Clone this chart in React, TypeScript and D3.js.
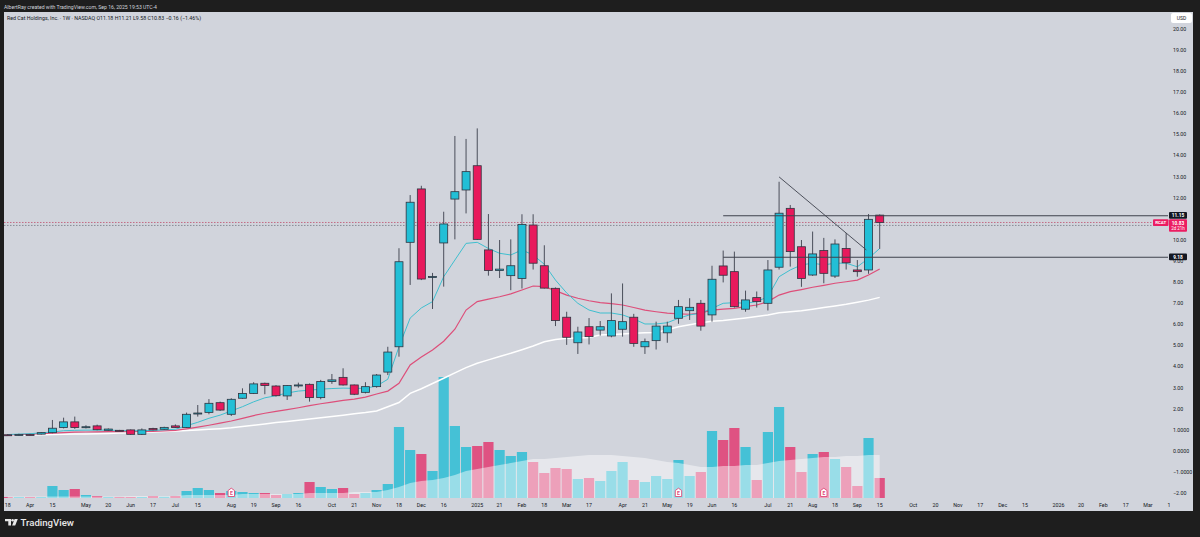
import React from 'react';
import * as d3 from 'd3';

// Weekly bars, index 0 = week of Mar 18 2024 ... 78 = week of Sep 15 2025
const opens = [0.77,0.76,0.78,0.80,0.87,1.11,1.38,1.11,1.19,0.98,0.98,1.00,0.79,1.07,1.03,1.19,1.11,1.78,1.83,2.29,1.74,2.50,2.73,3.21,3.08,2.61,3.12,3.16,2.53,3.29,3.49,3.13,2.78,3.05,3.74,4.94,9.89,12.42,8.25,9.86,11.94,12.37,13.52,9.53,8.55,8.31,8.18,10.71,8.78,7.71,6.34,5.13,5.89,5.73,5.45,5.77,6.34,4.94,5.23,5.60,6.29,6.65,7.00,6.45,8.77,8.50,6.72,7.27,7.00,8.71,11.50,9.68,8.34,9.50,8.29,9.60,8.58,8.58,11.18];
const highs = [0.80,0.82,0.81,0.90,1.47,1.58,1.63,1.22,1.25,1.07,1.00,1.02,1.07,1.10,1.15,1.26,1.82,2.18,2.46,2.34,2.50,2.97,3.26,3.24,3.12,3.12,3.24,3.20,3.37,3.65,3.92,3.15,3.26,3.65,4.94,9.61,12.13,12.57,8.44,11.34,14.93,14.79,15.29,11.23,10.00,10.03,11.22,11.22,9.75,7.75,6.60,5.89,6.30,6.16,7.47,7.94,6.50,5.33,6.13,6.13,7.16,7.24,7.16,8.78,9.50,9.45,7.60,7.56,9.05,12.76,11.66,10.00,10.40,10.10,10.03,10.33,9.05,11.23,11.21];
const lows = [0.72,0.73,0.74,0.78,0.84,1.07,1.05,1.07,0.98,0.96,0.95,0.77,0.76,0.98,1.00,1.09,1.09,1.63,1.74,1.90,1.66,2.48,2.70,2.69,2.58,2.42,3.00,2.34,2.45,3.18,3.10,2.65,2.73,3.00,3.60,4.47,7.87,8.10,6.73,7.79,10.03,11.26,10.00,8.31,8.20,7.62,7.70,8.60,7.70,5.92,5.03,4.60,5.05,5.47,5.39,5.42,4.94,4.60,4.81,5.13,6.03,6.21,5.70,6.13,7.99,6.80,6.60,6.80,6.66,8.60,8.74,7.78,8.30,7.95,8.20,8.60,8.26,8.40,9.58];
const closes = [0.76,0.78,0.77,0.87,1.08,1.38,1.11,1.15,1.01,1.04,0.97,0.79,1.00,1.00,1.12,1.11,1.74,1.80,2.26,1.94,2.45,2.73,3.18,3.10,2.62,3.10,3.13,2.53,3.29,3.37,3.13,2.69,3.05,3.60,4.69,8.97,11.79,8.15,8.27,10.76,12.29,13.24,10.03,8.55,8.62,8.78,10.74,8.90,7.72,6.18,5.39,5.64,5.42,5.89,6.18,6.13,5.10,5.18,5.92,5.92,6.84,6.81,5.92,8.14,8.33,6.84,7.16,7.08,8.58,11.27,9.45,8.18,9.34,8.42,9.81,8.92,8.50,10.98,10.83];
// volume, millions of shares
const volumes = [0.5,0.5,0.5,0.5,6,4,4.5,1.5,1,0.5,0.5,0.5,0.5,1,0.6,1,3.5,5,4,2.5,3.5,3,2.5,2.5,1.5,2,2.5,8,5.5,4.5,5,2,2.5,4,7,35.5,24,22,13.5,60.5,36,25.5,26,28,24,21,23,18,12.5,15,14.5,9.5,10,8.5,13.5,18,9,8,11,9.5,19,11,13,33.5,29,35,25.5,9,33,45.5,25.5,13,22,23,19.5,15.5,6,30,10];
const volumeMA = [0.8,0.8,0.8,0.8,0.8,0.8,0.8,0.8,0.8,0.8,0.8,1,1,1,1,1,1.5,1.5,1.5,1.5,1.5,2,2,2,2,2,2,2.5,2.5,2.5,2.5,3,3,3,4,5.5,7.5,8.5,9,10,11.5,13.5,14.5,15.5,16.5,17.5,18.5,19.5,19.5,20,20.5,21,21.5,21.5,21.5,21,20.5,20,19,18,17.5,16.5,15.5,15.5,16,16,16.5,16.5,17.5,18.5,19,19.5,20,20.5,20.5,21,21,21.5,21.5];
const emaFast = [0.78,0.80,0.82,0.86,0.90,0.96,0.98,0.99,0.99,0.99,0.97,0.96,0.96,0.98,1.00,1.03,1.20,1.36,1.55,1.70,1.90,2.10,2.33,2.52,2.62,2.75,2.84,2.88,2.93,2.96,2.98,2.97,2.97,3.08,3.40,4.94,6.30,6.78,7.08,8.26,9.05,9.84,9.89,9.60,9.37,9.29,9.53,9.29,8.85,8.10,7.49,7.00,6.68,6.54,6.54,6.45,6.26,6.02,6.02,6.08,6.29,6.45,6.53,6.76,7.00,7.03,7.00,7.08,7.31,8.26,8.58,8.82,8.90,8.82,8.90,8.90,8.73,9.13,9.60];
const maMid = [0.76,0.78,0.80,0.82,0.85,0.87,0.89,0.90,0.91,0.92,0.92,0.92,0.92,0.93,0.95,0.98,1.05,1.13,1.22,1.32,1.42,1.55,1.68,1.79,1.88,1.96,2.05,2.15,2.24,2.32,2.40,2.46,2.55,2.70,2.84,3.21,4.08,4.45,4.79,5.20,5.77,6.68,7.08,7.20,7.31,7.45,7.63,7.82,7.79,7.60,7.39,7.24,7.12,7.03,6.98,6.92,6.80,6.68,6.60,6.53,6.50,6.48,6.55,6.68,6.72,6.76,6.84,6.92,7.08,7.39,7.55,7.65,7.76,7.85,7.95,8.02,8.10,8.34,8.63];
const maSlow = [0.74,0.75,0.76,0.77,0.78,0.79,0.80,0.81,0.82,0.83,0.85,0.86,0.88,0.90,0.92,0.95,0.97,1.00,1.03,1.06,1.10,1.16,1.22,1.28,1.35,1.40,1.46,1.52,1.58,1.64,1.70,1.76,1.82,1.90,2.10,2.30,2.73,2.95,3.20,3.45,3.70,3.95,4.16,4.32,4.48,4.63,4.80,4.98,5.18,5.28,5.34,5.36,5.38,5.50,5.52,5.55,5.58,5.60,5.62,5.75,5.89,5.98,6.08,6.15,6.18,6.24,6.30,6.37,6.45,6.55,6.60,6.65,6.72,6.80,6.87,6.95,7.05,7.15,7.28];

// 11.00 is hidden behind the price labels in the reference
const priceTicks = [20,19,18,17,16,15,14,13,12,10,9,8,7,6,5,4,3,2];
const indicatorTicks = [1,0,-1,-2];
const indicatorLabels = ['1.0000','0.0000','\u22121.0000','\u22122.00'];
const timeIdx = [0,2,4,7,9,11,13,15,17,20,22,24,26,29,31,33,35,37,39,42,44,46,48,50,52,55,57,59,61,63,65,68,70,72,74,76,78,81,83,85,87,89,91,94,96,98,100,102,104];
const timeText = ['18','Apr','15','May','20','Jun','17','Jul','15','Aug','19','Sep','16','Oct','21','Nov','18','Dec','16','2025','21','Feb','18','Mar','17','Apr','21','May','19','Jun','16','Jul','21','Aug','18','Sep','15','Oct','20','Nov','17','Dec','15','2026','20','Feb','17','Mar','16'];
const earningsIdx = [20,60,73];
const levels = [11.15,9.18];
const trendIdx = [69,76.8];
const trendPrice = [12.99,9.53];
const lastPrice = 10.83;

const BG = '#1e1e1e';
const PANE = '#d1d4dc';
const UP = '#22bfd6';
const DOWN = '#e8195c';
const VUP = '#45c1d6';
const VDOWN = '#df5282';
const FONT = 'Roboto, "Liberation Sans", Arial, sans-serif';

export default function App() {
  const n = closes.length;
  const x = d3.scaleLinear().domain([0, 78]).range([7.7, 879.7]);
  const y = d3.scaleLinear().domain([-2, 20]).range([493.2, 29]);
  const vy = d3.scaleLinear().domain([0, 60.5]).range([498, 377]);
  const idx = d3.range(n);

  const line = (arr: number[]) =>
    d3.line<number>().x((i) => x(i)).y((i) => y(arr[i]))(idx) || '';
  const volArea = d3.area<number>().x((i) => x(i)).y0(498).y1((i) => vy(volumeMA[i]))(idx) || '';
  const trendPath = d3.line<number>().x((k) => x(trendIdx[k])).y((k) => y(trendPrice[k]))([0, 1]) || '';

  const paneL = 4, paneR = 1168, paneT = 12, paneB = 498;
  const bodyW = 8, volW = 10.2;

  return (
    <svg width={1200} height={537} style={{ position: 'absolute', left: 0, top: 0 }} fontFamily={FONT}>
      <defs>
        <clipPath id="pane"><rect x={paneL} y={paneT} width={paneR - paneL} height={paneB - paneT} /></clipPath>
        <clipPath id="taxis"><rect x={paneL} y={paneB} width={1170 - paneL} height={13} /></clipPath>
      </defs>
      <rect x={0} y={0} width={1200} height={537} fill={BG} />
      <rect x={4} y={12} width={1189} height={499} fill={PANE} />
      <text x={4} y={8.5} fontSize={5.6} fill="#d1d4dc" textLength={153} lengthAdjust="spacingAndGlyphs">AlbertRay created with TradingView.com, Sep 16, 2025 19:53 UTC-4</text>

      <g clipPath="url(#pane)">
        {/* volume */}
        {idx.map((i) => (
          <rect key={'v' + i} x={x(i) - volW / 2} y={vy(volumes[i])} width={volW} height={498 - vy(volumes[i])}
            fill={closes[i] >= opens[i] ? VUP : VDOWN} />
        ))}
        <path d={volArea} fill="#ffffff" fillOpacity={0.45} />
        {earningsIdx.map((i) => (
          <g key={'e' + i} transform={`translate(${x(i)},493)`}>
            <path d="M-3.2,-2.5 L0,-4.8 L3.2,-2.5 L3.2,3.5 L-3.2,3.5 Z" fill="#ffffff" stroke="#e04a78" strokeWidth={0.9} />
            <text x={0} y={2.4} fontSize={5} textAnchor="middle" fill="#e04a78" fontWeight="bold">E</text>
          </g>
        ))}

        {/* dotted price lines */}
        <line x1={paneL} x2={paneR} y1={y(lastPrice)} y2={y(lastPrice)} stroke="#c0506e" strokeWidth={0.8} strokeDasharray="1.5,1.5" />
        <line x1={paneL} x2={paneR} y1={y(10.69)} y2={y(10.69)} stroke="#6a6d78" strokeWidth={0.7} strokeDasharray="1.5,1.5" />

        {/* moving averages */}
        <path d={line(maSlow)} fill="none" stroke="#ffffff" strokeWidth={1.5} />
        <path d={line(maMid)} fill="none" stroke="#dd4f7a" strokeWidth={1.2} />
        <path d={line(emaFast)} fill="none" stroke="#3fbfcf" strokeWidth={1} />

        {/* candles */}
        {idx.map((i) => {
          const up = closes[i] >= opens[i];
          const top = y(Math.max(opens[i], closes[i]));
          const bot = y(Math.min(opens[i], closes[i]));
          return (
            <g key={'c' + i}>
              <line x1={x(i)} x2={x(i)} y1={y(highs[i])} y2={y(lows[i])} stroke="#4a4e5a" strokeWidth={1} />
              <rect x={x(i) - bodyW / 2} y={top} width={bodyW} height={Math.max(1, bot - top)}
                fill={up ? UP : DOWN} stroke="#2f3440" strokeWidth={0.8} />
            </g>
          );
        })}

        {/* drawings */}
        <path d={trendPath} fill="none" stroke="#3e424d" strokeWidth={0.9} />
        {levels.map((p) => (
          <line key={'l' + p} x1={x(64)} x2={paneR + 2} y1={y(p)} y2={y(p)} stroke="#3e424d" strokeWidth={1.1} />
        ))}
      </g>

      {/* legend */}
      <text x={7} y={19.5} fontSize={5.4} fill="#131722" textLength={194} lengthAdjust="spacingAndGlyphs">
        Red Cat Holdings, Inc. · 1W · NASDAQ  O11.18  H11.21  L9.58  C10.83  −0.16 (−1.46%)
      </text>

      {/* price axis */}
      <rect x={1171} y={13} width={21} height={10} rx={2} fill="#ffffff" />
      <text x={1181.5} y={20} fontSize={5} textAnchor="middle" fill="#131722">USD</text>
      {priceTicks.map((v) => (
        <text key={'p' + v} x={1173} y={y(v) + 1.8} fontSize={5.3} fill="#131722">{v.toFixed(2)}</text>
      ))}
      {indicatorTicks.map((v, k) => (
        <text key={'ind' + v} x={1173} y={y(v) + 1.8} fontSize={5.3} fill="#131722">{indicatorLabels[k]}</text>
      ))}
      {levels.map((p) => (
        <g key={'lb' + p}>
          <rect x={1169} y={y(p) - 3.8} width={18} height={6.8} rx={1} fill="#131722" />
          <text x={1178} y={y(p) + 1.4} fontSize={4.8} textAnchor="middle" fill="#ffffff" fontWeight="bold">{p.toFixed(2)}</text>
        </g>
      ))}
      <rect x={1153} y={y(lastPrice) - 3.2} width={15.5} height={6.8} rx={1} fill="#ec1d62" />
      <text x={1160.7} y={y(lastPrice) + 2.0} fontSize={4.4} textAnchor="middle" fill="#ffffff" fontWeight="bold">RCAT</text>
      <rect x={1169} y={y(lastPrice) - 3.2} width={18} height={12.4} rx={1} fill="#ec1d62" />
      <text x={1178} y={y(lastPrice) + 2.2} fontSize={4.8} textAnchor="middle" fill="#ffffff" fontWeight="bold">{lastPrice.toFixed(2)}</text>
      <text x={1178} y={y(lastPrice) + 7.9} fontSize={4.5} textAnchor="middle" fill="#ffffff">2d 21h</text>

      {/* time axis */}
      <g clipPath="url(#taxis)">
        {timeIdx.map((i, k) => (
          <text key={'t' + k} x={x(i)} y={507} fontSize={5.3} textAnchor="middle" fill="#131722">{timeText[k]}</text>
        ))}
      </g>

      {/* footer logo */}
      <g fill="#e8e8e8">
        <path d="M5,519 H11 V525.5 H8.3 V521.3 H5 Z" />
        <circle cx={12.6} cy={520.3} r={1.3} />
        <path d="M14.6,519 H17.8 L15.2,525.5 H12.1 Z" />
      </g>
      <text x={20.5} y={526} fontSize={9.6} fill="#e8e8e8" fontWeight={500}>TradingView</text>
    </svg>
  );
}
